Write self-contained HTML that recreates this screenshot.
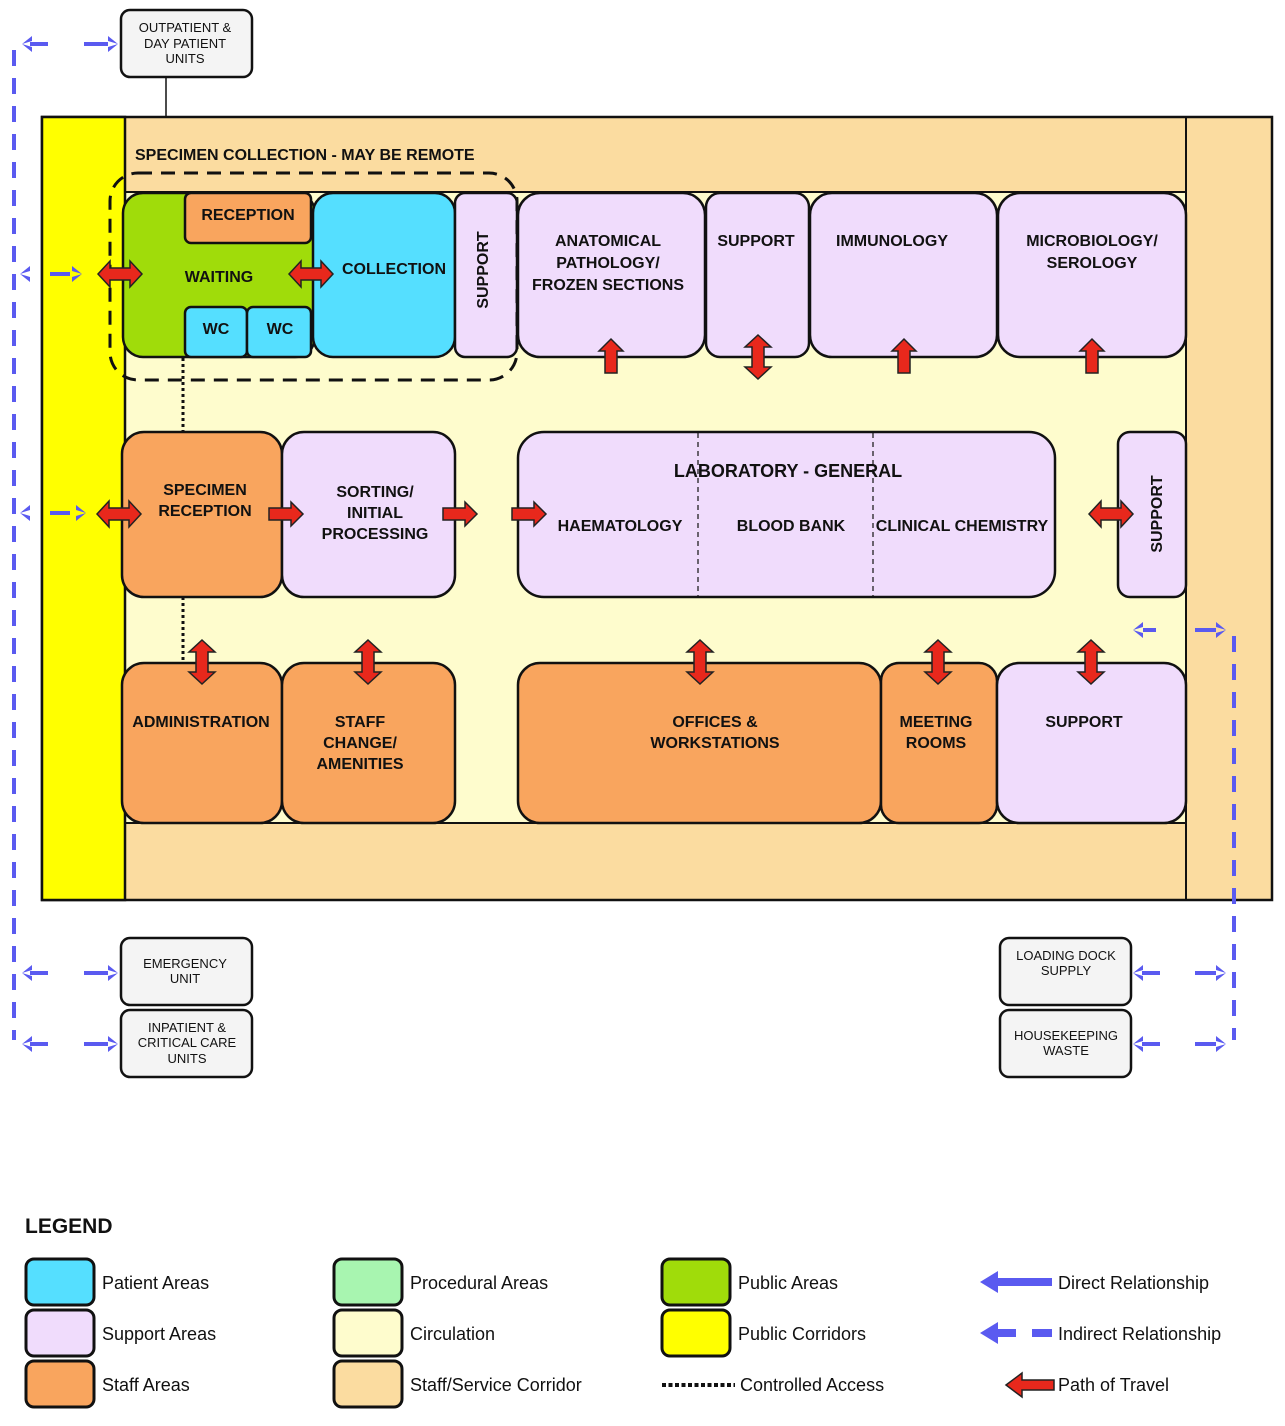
<!DOCTYPE html>
<html><head><meta charset="utf-8"><style>
body{margin:0;background:#fff}
svg{display:block}
text{font-family:"Liberation Sans",Arial,sans-serif;font-weight:bold;font-size:16px;fill:#111}
.s{font-weight:normal;font-size:13px}
.lg{font-weight:normal;font-size:18px}
</style></head><body>
<svg width="1285" height="1426" viewBox="0 0 1285 1426" xmlns="http://www.w3.org/2000/svg">
<defs>
<polygon id="dh" points="-22,0 -10,-13 -10,-6 10,-6 10,-13 22,0 10,13 10,6 -10,6 -10,13" fill="#e8281c" stroke="#222" stroke-width="1.5"/>
<polygon id="sh" points="-17,-6 5,-6 5,-12 17,0 5,12 5,6 -17,6" fill="#e8281c" stroke="#222" stroke-width="1.5"/>
<polygon id="ba" points="0,0 10,-8 10,-3 0,0 10,3 10,8" fill="#5a5af0"/>
</defs>
<!-- outer frame -->
<rect x="42" y="117" width="1230" height="783" fill="#fbdca0" stroke="#111" stroke-width="2.5"/>
<rect x="125" y="192" width="1061" height="631" fill="#fefccd"/>
<line x1="125" y1="192" x2="1186" y2="192" stroke="#111" stroke-width="2"/>
<line x1="125" y1="823" x2="1186" y2="823" stroke="#111" stroke-width="2"/>
<line x1="1186" y1="117" x2="1186" y2="900" stroke="#111" stroke-width="2"/>
<rect x="42" y="117" width="83" height="783" fill="#ffff00" stroke="#111" stroke-width="2.5"/>
<line x1="166" y1="77" x2="166" y2="117" stroke="#111" stroke-width="1.5"/>
<text x="135" y="160" style="font-size:16px">SPECIMEN COLLECTION - MAY BE REMOTE</text>

<g stroke="#111" stroke-width="2.5">
<!-- row 1 -->
<rect x="123" y="193" width="192" height="164" rx="20" fill="#a0dc0a"/>
<rect x="185" y="193" width="126" height="50" rx="6" fill="#f9a55e"/>
<rect x="185" y="307" width="62" height="50" rx="6" fill="#55dfff"/>
<rect x="247" y="307" width="64" height="50" rx="6" fill="#55dfff"/>
<rect x="313" y="193" width="142" height="164" rx="20" fill="#55dfff"/>
<rect x="455" y="193" width="62" height="164" rx="10" fill="#f0dcfc"/>
<rect x="518" y="193" width="187" height="164" rx="22" fill="#f0dcfc"/>
<rect x="706" y="193" width="103" height="164" rx="14" fill="#f0dcfc"/>
<rect x="810" y="193" width="187" height="164" rx="22" fill="#f0dcfc"/>
<rect x="998" y="193" width="188" height="164" rx="22" fill="#f0dcfc"/>
<!-- row 2 -->
<rect x="122" y="432" width="160" height="165" rx="22" fill="#f9a55e"/>
<rect x="282" y="432" width="173" height="165" rx="22" fill="#f0dcfc"/>
<rect x="518" y="432" width="537" height="165" rx="26" fill="#f0dcfc"/>
<rect x="1118" y="432" width="68" height="165" rx="12" fill="#f0dcfc"/>
<!-- row 3 -->
<rect x="122" y="663" width="160" height="160" rx="22" fill="#f9a55e"/>
<rect x="282" y="663" width="173" height="160" rx="22" fill="#f9a55e"/>
<rect x="518" y="663" width="363" height="160" rx="22" fill="#f9a55e"/>
<rect x="881" y="663" width="116" height="160" rx="18" fill="#f9a55e"/>
<rect x="997" y="663" width="189" height="160" rx="22" fill="#f0dcfc"/>
<!-- outside boxes -->
<g fill="#f4f4f4" stroke-width="2.5">
<rect x="121" y="10" width="131" height="67" rx="9"/>
<rect x="121" y="938" width="131" height="67" rx="9"/>
<rect x="121" y="1010" width="131" height="67" rx="9"/>
<rect x="1000" y="938" width="131" height="67" rx="9"/>
<rect x="1000" y="1010" width="131" height="67" rx="9"/>
</g>
</g>
<!-- dashed collection zone -->
<rect x="110" y="173" width="407" height="207" rx="28" fill="none" stroke="#111" stroke-width="3" stroke-dasharray="14,9"/>
<line x1="698" y1="433" x2="698" y2="596" stroke="#111" stroke-width="1.2" stroke-dasharray="5,4"/>
<line x1="873" y1="433" x2="873" y2="596" stroke="#111" stroke-width="1.2" stroke-dasharray="5,4"/>
<line x1="183" y1="358" x2="183" y2="432" stroke="#111" stroke-width="3" stroke-dasharray="3,3"/>
<line x1="183" y1="597" x2="183" y2="663" stroke="#111" stroke-width="3" stroke-dasharray="3,3"/>

<!-- labels -->
<g text-anchor="middle">
<text x="185" y="32" class="s">OUTPATIENT &amp;</text><text x="185" y="48" class="s">DAY PATIENT</text><text x="185" y="63" class="s">UNITS</text>
<text x="185" y="968" class="s">EMERGENCY</text><text x="185" y="983" class="s">UNIT</text>
<text x="187" y="1032" class="s">INPATIENT &amp;</text><text x="187" y="1047" class="s">CRITICAL CARE</text><text x="187" y="1063" class="s">UNITS</text>
<text x="1066" y="960" class="s">LOADING DOCK</text><text x="1066" y="975" class="s">SUPPLY</text>
<text x="1066" y="1040" class="s">HOUSEKEEPING</text><text x="1066" y="1055" class="s">WASTE</text>
<text x="248" y="220">RECEPTION</text>
<text x="219" y="282">WAITING</text>
<text x="216" y="334">WC</text><text x="280" y="334">WC</text>
<text x="394" y="274">COLLECTION</text>
<text transform="translate(488,270) rotate(-90)">SUPPORT</text>
<text x="608" y="246">ANATOMICAL</text><text x="608" y="268">PATHOLOGY/</text><text x="608" y="290">FROZEN SECTIONS</text>
<text x="756" y="246">SUPPORT</text>
<text x="892" y="246">IMMUNOLOGY</text>
<text x="1092" y="246">MICROBIOLOGY/</text><text x="1092" y="268">SEROLOGY</text>
<text x="205" y="495">SPECIMEN</text><text x="205" y="516">RECEPTION</text>
<text x="375" y="497">SORTING/</text><text x="375" y="518">INITIAL</text><text x="375" y="539">PROCESSING</text>
<text x="788" y="477" style="font-size:18px">LABORATORY - GENERAL</text>
<text x="620" y="531">HAEMATOLOGY</text>
<text x="791" y="531">BLOOD BANK</text>
<text x="962" y="531">CLINICAL CHEMISTRY</text>
<text transform="translate(1162,514) rotate(-90)">SUPPORT</text>
<text x="201" y="727">ADMINISTRATION</text>
<text x="360" y="727">STAFF</text><text x="360" y="748">CHANGE/</text><text x="360" y="769">AMENITIES</text>
<text x="715" y="727">OFFICES &amp;</text><text x="715" y="748">WORKSTATIONS</text>
<text x="936" y="727">MEETING</text><text x="936" y="748">ROOMS</text>
<text x="1084" y="727">SUPPORT</text>
</g>

<!-- red arrows -->
<use href="#dh" x="120" y="274"/>
<use href="#dh" x="311" y="274"/>
<use href="#dh" x="119" y="514"/>
<use href="#sh" x="286" y="514"/>
<use href="#sh" x="460" y="514"/>
<use href="#sh" x="529" y="514"/>
<use href="#dh" x="1111" y="514"/>
<use href="#sh" transform="translate(611,356) rotate(-90)"/>
<use href="#sh" transform="translate(904,356) rotate(-90)"/>
<use href="#sh" transform="translate(1092,356) rotate(-90)"/>
<use href="#dh" transform="translate(758,357) rotate(90)"/>
<use href="#dh" transform="translate(202,662) rotate(90)"/>
<use href="#dh" transform="translate(368,662) rotate(90)"/>
<use href="#dh" transform="translate(700,662) rotate(90)"/>
<use href="#dh" transform="translate(938,662) rotate(90)"/>
<use href="#dh" transform="translate(1091,662) rotate(90)"/>

<!-- blue dashed relationships -->
<g stroke="#5a5af0" stroke-width="4" fill="none" stroke-dasharray="16,12">
<line x1="14" y1="50" x2="14" y2="1040"/>
<line x1="1234" y1="636" x2="1234" y2="1040"/>
</g>
<g stroke="#5a5af0" stroke-width="4">
<line x1="30" y1="44" x2="48" y2="44"/><line x1="84" y1="44" x2="108" y2="44"/>
<line x1="50" y1="274" x2="70" y2="274"/>
<line x1="50" y1="513" x2="70" y2="513"/>
<line x1="30" y1="973" x2="48" y2="973"/><line x1="84" y1="973" x2="108" y2="973"/>
<line x1="30" y1="1044" x2="48" y2="1044"/><line x1="84" y1="1044" x2="108" y2="1044"/>
<line x1="1143" y1="630" x2="1156" y2="630"/><line x1="1195" y1="630" x2="1216" y2="630"/>
<line x1="1142" y1="973" x2="1160" y2="973"/><line x1="1195" y1="973" x2="1216" y2="973"/>
<line x1="1142" y1="1044" x2="1160" y2="1044"/><line x1="1195" y1="1044" x2="1216" y2="1044"/>
</g>
<g>
<use href="#ba" x="22" y="44"/><use href="#ba" transform="translate(118,44) rotate(180)"/>
<use href="#ba" x="20" y="274"/><use href="#ba" transform="translate(82,274) rotate(180)"/>
<use href="#ba" x="20" y="513"/><use href="#ba" transform="translate(86,513) rotate(180)"/>
<use href="#ba" x="22" y="973"/><use href="#ba" transform="translate(118,973) rotate(180)"/>
<use href="#ba" x="22" y="1044"/><use href="#ba" transform="translate(118,1044) rotate(180)"/>
<use href="#ba" x="1133" y="630"/><use href="#ba" transform="translate(1226,630) rotate(180)"/>
<use href="#ba" x="1133" y="973"/><use href="#ba" transform="translate(1226,973) rotate(180)"/>
<use href="#ba" x="1133" y="1044"/><use href="#ba" transform="translate(1226,1044) rotate(180)"/>
</g>

<!-- legend -->
<text x="25" y="1233" style="font-size:21px">LEGEND</text>
<g stroke="#111" stroke-width="3">
<rect x="26" y="1259" width="68" height="46" rx="8" fill="#55dfff"/>
<rect x="26" y="1310" width="68" height="46" rx="8" fill="#f0dcfc"/>
<rect x="26" y="1361" width="68" height="46" rx="8" fill="#f9a55e"/>
<rect x="334" y="1259" width="68" height="46" rx="8" fill="#a8f5b0"/>
<rect x="334" y="1310" width="68" height="46" rx="8" fill="#fefccd"/>
<rect x="334" y="1361" width="68" height="46" rx="8" fill="#fbdca0"/>
<rect x="662" y="1259" width="68" height="46" rx="8" fill="#a0dc0a"/>
<rect x="662" y="1310" width="68" height="46" rx="8" fill="#ffff00"/>
</g>
<g class="lg">
<text x="102" y="1289" class="lg">Patient Areas</text>
<text x="102" y="1340" class="lg">Support Areas</text>
<text x="102" y="1391" class="lg">Staff Areas</text>
<text x="410" y="1289" class="lg">Procedural Areas</text>
<text x="410" y="1340" class="lg">Circulation</text>
<text x="410" y="1391" class="lg">Staff/Service Corridor</text>
<text x="738" y="1289" class="lg">Public Areas</text>
<text x="738" y="1340" class="lg">Public Corridors</text>
<text x="740" y="1391" class="lg">Controlled Access</text>
<text x="1058" y="1289" class="lg">Direct Relationship</text>
<text x="1058" y="1340" class="lg">Indirect Relationship</text>
<text x="1058" y="1391" class="lg">Path of Travel</text>
</g>
<line x1="662" y1="1385" x2="735" y2="1385" stroke="#111" stroke-width="4" stroke-dasharray="4,2.5"/>
<polygon points="980,1282 998,1271 998,1278 1052,1278 1052,1286 998,1286 998,1293" fill="#5a5af0"/>
<polygon points="980,1333 998,1322 998,1329 1016,1329 1016,1337 998,1337 998,1344" fill="#5a5af0"/>
<rect x="1032" y="1329" width="20" height="8" fill="#5a5af0"/>
<polygon points="1006,1385 1022,1373 1022,1380 1054,1380 1054,1390 1022,1390 1022,1397" fill="#e8281c" stroke="#222" stroke-width="1.5"/>
</svg>
</body></html>
